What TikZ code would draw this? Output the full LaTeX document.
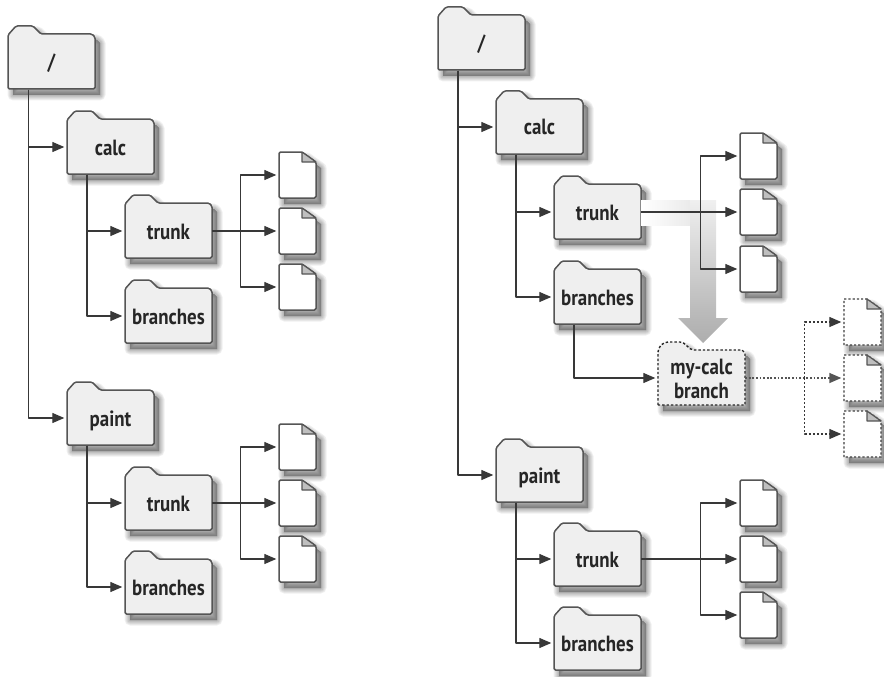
\documentclass[tikz,border=0pt]{standalone}
\usepackage{fontspec}
\setmainfont[FakeStretch=0.86]{PT Sans}
\usetikzlibrary{arrows.meta,calc}
\definecolor{ln}{HTML}{555555}
\definecolor{wire}{HTML}{383838}
\definecolor{body}{HTML}{EFEFEF}
\tikzset{
  x=1pt,y=-1pt,
  lbl/.style={inner sep=0pt,minimum width=87pt,minimum height=55pt,align=center,
    font=\fontsize{22}{23.5}\selectfont\bfseries,text=black!85,text height=17pt,text depth=1pt},
  docn/.style={inner sep=0pt,minimum width=37pt,minimum height=46pt},
  outline/.style={draw=ln,line width=1.5pt,line join=round,rounded corners=1.5pt},
  wirel/.style={draw=wire,line width=1.3pt,line join=round,-{Triangle[length=12pt,width=10pt]},shorten >=2.5pt},
  dashwire/.style={wirel,dash pattern=on 2.2pt off 1.8pt},
  dotwire/.style={wirel,dash pattern=on 1.8pt off 1.8pt,draw=ln,line width=1.5pt},
}
\def\fpath{(0,63) -- (0,9) -- (8,0) -- (25,0) -- (33,8) -- (84,8) -- (87,11) -- (87,63) -- cycle}
\def\dpath{(0,46) -- (0,0) -- (23,0) -- (37,10) -- (37,46) -- cycle}
\newcommand\softshade[1]{%
  \foreach \w in {11,9,7,5,3,1}{%
    \path[fill=black,draw=black,opacity=0.06,line width=\w pt,line join=round,shift={(5,6)}] #1;}}
\newcommand\folderbox[4]{% name, x, y, text
  \begin{scope}[shift={(#2,#3)}]
    \softshade{\fpath}
    \path[outline,fill=body] \fpath;
    \node[lbl] (#1) at (43.5,36) {#4};
  \end{scope}}
\newcommand\docbox[3]{% name, x, y
  \begin{scope}[shift={(#2,#3)}]
    \softshade{\dpath}
    \path[outline,fill=white] \dpath;
    \path[draw=ln,line width=1.2pt,fill=black!25,line join=round] (23,0) -- (23,10) -- (37,10) -- cycle;
    \node[docn] (#1) at (18.5,23) {};
  \end{scope}}
\newcommand\dashdoc[3]{% name, x, y
  \begin{scope}[shift={(#2,#3)}]
    \softshade{\dpath}
    \path[draw=black!75,line width=1.4pt,dash pattern=on 2.2pt off 2pt,fill=white] \dpath;
    \path[draw=ln,line width=1.2pt,fill=black!25,line join=round] (23,0) -- (23,10) -- (37,10) -- cycle;
    \node[docn] (#1) at (18.5,23) {};
  \end{scope}}
\begin{document}
\begin{tikzpicture}
\useasboundingbox (0,0) rectangle (884,677);
% left tree
\folderbox{lroot}{8}{26}{/}
\folderbox{lcalc}{67}{111}{calc}
\folderbox{lctrunk}{125}{195}{trunk}
\folderbox{lcbranches}{125}{280}{branches}
\folderbox{lpaint}{67}{382}{paint}
\folderbox{lptrunk}{125}{467}{trunk}
\folderbox{lpbranches}{125}{551}{branches}
\docbox{la}{279}{152}\docbox{lb}{279}{208}\docbox{lc}{279}{264}
\docbox{ld}{279}{424}\docbox{le}{279}{480}\docbox{lf}{279}{536}
% right tree
\folderbox{rroot}{438}{7}{/}
\folderbox{rcalc}{496}{91}{calc}
\folderbox{rctrunk}{554}{176}{trunk}
\folderbox{rcbranches}{554}{261}{branches}
\folderbox{rpaint}{496}{439}{paint}
\folderbox{rptrunk}{554}{523}{trunk}
\folderbox{rpbranches}{554}{607}{branches}
\docbox{ra}{740}{133}\docbox{rb}{740}{189}\docbox{rc}{740}{246}
\docbox{rd}{740}{480}\docbox{re}{740}{536}\docbox{rf}{740}{592}
% my-calc branch
\begin{scope}[shift={(658,342)}]
  \def\mpath{(0,63) -- (0,12) .. controls (0,4) and (4,0) .. (12,0) -- (22,0) .. controls (28,0) and (30,8) .. (36,8) -- (84,8) -- (87,11) -- (87,63) -- cycle}
  \softshade{\mpath}
  \path[draw=black!85,line width=1.4pt,dash pattern=on 2.4pt off 2pt,fill=body] \mpath;
  \node[lbl,text height=41pt,text depth=1pt] (mycalc) at (43.5,36) {my-calc\\branch};
\end{scope}
\dashdoc{da}{844}{299}\dashdoc{db}{844}{355}\dashdoc{dc}{844}{411}
% copy arrow
\path[left color=white,right color=black!8] (641,200) rectangle (690,225);
\path[top color=black!6,bottom color=black!28] (690,200) rectangle (716,318);
\path[top color=black!28,bottom color=black!32] (678,318) -- (728,318) -- (703,343) -- cycle;
% connectors, left
\draw[wirel] ([xshift=-23pt]lroot.south) |- (lcalc.west);
\draw[wirel] ([xshift=-23pt]lroot.south) |- (lpaint.west);
\draw[wirel] ([xshift=-23.5pt]lcalc.south) |- (lctrunk.west);
\draw[wirel] ([xshift=-23.5pt]lcalc.south) |- (lcbranches.west);
\draw[wirel] ([xshift=-23.5pt]lpaint.south) |- (lptrunk.west);
\draw[wirel] ([xshift=-23.5pt]lpaint.south) |- (lpbranches.west);
\coordinate (j1) at ($(lctrunk.east)+(28,0)$);
\coordinate (j2) at ($(lptrunk.east)+(28,0)$);
\draw[wirel] (lctrunk.east) -- (lb.west);
\draw[wirel] (j1) |- (la.west);
\draw[wirel] (j1) |- (lc.west);
\draw[wirel] (lptrunk.east) -- (le.west);
\draw[wirel] (j2) |- (ld.west);
\draw[wirel] (j2) |- (lf.west);
% connectors, right
\draw[wirel] ([xshift=-23.5pt]rroot.south) |- (rcalc.west);
\draw[wirel] ([xshift=-23.5pt]rroot.south) |- (rpaint.west);
\draw[wirel] ([xshift=-23.5pt]rcalc.south) |- (rctrunk.west);
\draw[wirel] ([xshift=-23.5pt]rcalc.south) |- (rcbranches.west);
\draw[wirel] ([xshift=-23.5pt]rpaint.south) |- (rptrunk.west);
\draw[wirel] ([xshift=-23.5pt]rpaint.south) |- (rpbranches.west);
\coordinate (j3) at ($(rctrunk.east)+(59,0)$);
\coordinate (j4) at ($(rptrunk.east)+(59,0)$);
\draw[wirel] (rctrunk.east) -- (rb.west);
\draw[wirel] (j3) |- (ra.west);
\draw[wirel] (j3) |- (rc.west);
\draw[wirel] (rptrunk.east) -- (re.west);
\draw[wirel] (j4) |- (rd.west);
\draw[wirel] (j4) |- (rf.west);
\draw[wirel] ([xshift=-23.5pt]rcbranches.south) |- (mycalc.west);
% dotted branch
\coordinate (j5) at ($(db.west)+(-39,0)$);
\draw[dotwire] (mycalc.east) -- (db.west);
\draw[dashwire] (j5) |- (da.west);
\draw[dashwire] (j5) |- (dc.west);
\end{tikzpicture}
\end{document}
